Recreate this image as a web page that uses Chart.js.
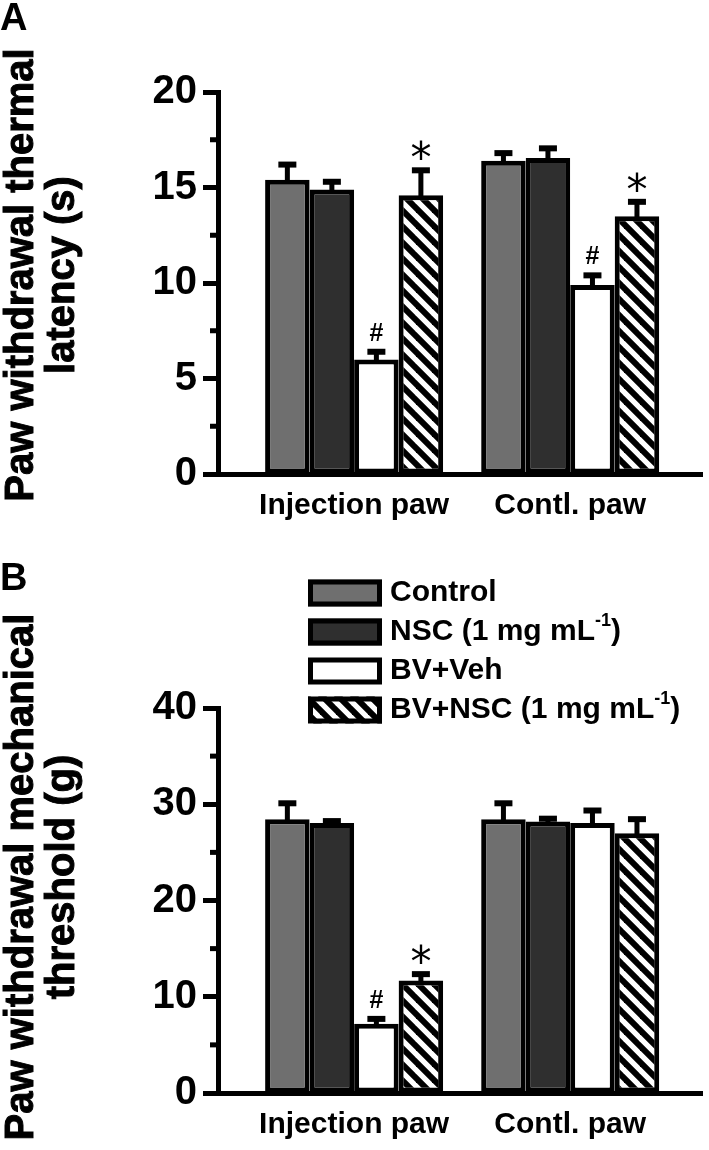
<!DOCTYPE html>
<html>
<head>
<meta charset="utf-8">
<script src="https://cdn.jsdelivr.net/npm/chart.js@4.4.1/dist/chart.umd.min.js"></script>
<style>
  html, body { margin: 0; padding: 0; background: #fff; }
  .panel { position: absolute; left: 0; width: 709px; }
  #panelA { top: 0; height: 550px; }
  #panelB { top: 550px; height: 600px; }
</style>
</head>
<body>
<div class="panel" id="panelA"><canvas id="chartA"></canvas></div>
<div class="panel" id="panelB"><canvas id="chartB"></canvas></div>
<script>
const categories = ["Injection paw", "Contl. paw"];
const seriesNames = ["Control", "NSC (1 mg mL⁻¹)", "BV+Veh", "BV+NSC (1 mg mL⁻¹)"];

// A: paw withdrawal thermal latency (s), mean and SEM
const thermalControl = [15.4, 16.4];
const thermalNSC = [14.9, 16.55];
const thermalBVVeh = [6.0, 9.9];
const thermalBVNSC = [14.6, 13.5];
const thermalControlErr = [0.8, 0.4];
const thermalNSCErr = [0.4, 0.5];
const thermalBVVehErr = [0.4, 0.5];
const thermalBVNSCErr = [1.3, 0.75];
const thermalTicks = [0, 5, 10, 15, 20];

// B: paw withdrawal mechanical threshold (g)
const mechControl = [28.45, 28.45];
const mechNSC = [28.05, 28.2];
const mechBVVeh = [7.2, 28.05];
const mechBVNSC = [11.7, 27.0];
const mechControlErr = [1.65, 1.65];
const mechNSCErr = [0.2, 0.3];
const mechBVVehErr = [0.5, 1.3];
const mechBVNSCErr = [0.65, 1.45];
const mechTicks = [0, 10, 20, 30, 40];

// significance marks (# vs control, * vs BV+Veh)
const hashMarksA = ["#", "#"];
const starMarksA = ["*", "*"];
const hashMarksB = ["#", ""];
const starMarksB = ["*", ""];

const FAMILY = "'Liberation Sans', Arial, Helvetica, sans-serif";
Chart.defaults.font.family = FAMILY;
Chart.defaults.font.weight = "bold";
Chart.defaults.color = "#000";

function hatchPattern() {
    const c = document.createElement("canvas");
    c.width = 16;
    c.height = 16;
    const g = c.getContext("2d");
    g.fillStyle = "#fff";
    g.fillRect(0, 0, 16, 16);
    g.strokeStyle = "#000";
    g.lineWidth = 6;
    [-16, 0, 16].forEach(d => {
        g.beginPath();
        g.moveTo(d - 4, -4);
        g.lineTo(d + 20, 20);
        g.stroke();
    });
    return g.createPattern(c, "repeat");
}

const fills = ["#6f6f6f", "#2f2f2f", "#ffffff", hatchPattern()];

function points(values) {
    return values.map((v, i) => ({ x: i + 1, y: v }));
}

// error bars + significance marks, drawn above the bars
const errorBars = {
    id: "errorBars",
    afterDatasetsDraw(chart) {
        const ctx = chart.ctx;
        const yScale = chart.scales.y;
        ctx.save();
        chart.data.datasets.forEach((ds, i) => {
            const meta = chart.getDatasetMeta(i);
            meta.data.forEach((bar, j) => {
                const top = yScale.getPixelForValue(ds.data[j].y + ds.errors[j]);
                ctx.fillStyle = "#000";
                ctx.fillRect(bar.x - 2.5, top, 5, bar.y - top + 2);
                ctx.fillRect(bar.x - 9, top - 3, 18, 6);
                const mark = ds.marks && ds.marks[j];
                if (mark) {
                    ctx.font = mark === "*" ? "42px 'DejaVu Sans', sans-serif" : "bold 25px " + FAMILY;
                    ctx.textAlign = "center";
                    ctx.textBaseline = "alphabetic";
                    const m = ctx.measureText(mark);
                    const cy = top - 20;
                    ctx.fillText(mark, bar.x, cy + (m.actualBoundingBoxAscent - m.actualBoundingBoxDescent) / 2);
                }
            });
        });
        ctx.restore();
    }
};

// short minor ticks half way between the labelled ones
const minorTicks = {
    id: "minorTicks",
    afterDraw(chart) {
        const ctx = chart.ctx;
        const yScale = chart.scales.y;
        const left = chart.chartArea.left;
        ctx.save();
        ctx.fillStyle = "#000";
        yScale.ticks.forEach((t, k) => {
            if (k === yScale.ticks.length - 1) return;
            const py = yScale.getPixelForValue((t.value + yScale.ticks[k + 1].value) / 2);
            ctx.fillRect(left - 8, py - 2.5, 8, 5);
        });
        ctx.restore();
    }
};

// rotated two-line y title
const yTitle = {
    id: "yTitle",
    afterDraw(chart, args, opts) {
        const ctx = chart.ctx;
        ctx.save();
        ctx.fillStyle = "#000";
        ctx.strokeStyle = "#000";
        ctx.lineWidth = 1;
        ctx.font = "bold " + opts.size + "px " + FAMILY;
        ctx.textAlign = "center";
        ctx.textBaseline = "middle";
        opts.lines.forEach((line, i) => {
            ctx.save();
            ctx.translate(opts.x[i], opts.centerY);
            ctx.rotate(-Math.PI / 2);
            ctx.fillText(line, 0, 0);
            ctx.strokeText(line, 0, 0);
            ctx.restore();
        });
        ctx.restore();
    }
};

function drawLabel(ctx, text, x, y, size) {
    const parts = text.split("⁻¹");
    ctx.textAlign = "left";
    ctx.textBaseline = "middle";
    ctx.font = "bold " + size + "px " + FAMILY;
    ctx.fillText(parts[0], x, y);
    if (parts.length > 1) {
        x += ctx.measureText(parts[0]).width;
        ctx.font = "bold " + Math.round(size * 0.6) + "px " + FAMILY;
        ctx.fillText("-1", x, y - size * 0.38);
        x += ctx.measureText("-1").width;
        ctx.font = "bold " + size + "px " + FAMILY;
        ctx.fillText(parts[1], x, y);
    }
}

const boxLegend = {
    id: "boxLegend",
    afterDraw(chart, args, opts) {
        if (!opts.display) return;
        const ctx = chart.ctx;
        ctx.save();
        chart.data.datasets.forEach((ds, i) => {
            const cy = opts.top + i * opts.gap;
            const y0 = cy - opts.boxHeight / 2;
            ctx.fillStyle = ds.backgroundColor;
            ctx.fillRect(opts.left, y0, opts.boxWidth, opts.boxHeight);
            ctx.lineWidth = 5;
            ctx.strokeStyle = "#000";
            ctx.strokeRect(opts.left + 2.5, y0 + 2.5, opts.boxWidth - 5, opts.boxHeight - 5);
            ctx.fillStyle = "#000";
            drawLabel(ctx, ds.label, opts.left + opts.boxWidth + 8, cy, opts.fontSize);
        });
        ctx.restore();
    }
};

function makePanel(canvasId, cfg) {
    const datasets = cfg.series.map((vals, i) => ({
        label: seriesNames[i],
        data: points(vals),
        errors: cfg.errors[i],
        marks: cfg.marks[i],
        backgroundColor: fills[i],
        borderColor: "#000",
        borderWidth: 5,
        borderSkipped: false,
        barPercentage: 1,
        categoryPercentage: 0.824
    }));

    return new Chart(document.getElementById(canvasId), {
        type: "bar",
        data: { datasets },
        plugins: [errorBars, minorTicks, yTitle, boxLegend],
        options: {
            responsive: true,
            maintainAspectRatio: false,
            animation: false,
            layout: { padding: { left: 0, right: 7, top: 0, bottom: 0 } },
            scales: {
                x: {
                    type: "linear",
                    offset: false,
                    bounds: "data",
                    min: 0.37,
                    max: 2.61,
                    afterBuildTicks: scale => {
                        scale.ticks = categories.map((c, i) => ({ value: i + 1 }));
                    },
                    afterFit: scale => { scale.height = cfg.xHeight; },
                    grid: { display: false, drawTicks: false, offset: false },
                    border: { display: true, color: "#000", width: 5 },
                    ticks: {
                        autoSkip: false,
                        maxRotation: 0,
                        padding: 14,
                        font: { size: 30, weight: "bold" },
                        callback: v => categories[v - 1]
                    }
                },
                y: {
                    min: cfg.ticks[0],
                    max: cfg.ticks[cfg.ticks.length - 1],
                    afterBuildTicks: scale => {
                        scale.ticks = cfg.ticks.map(v => ({ value: v }));
                    },
                    afterFit: scale => { scale.width = 218; },
                    grid: {
                        drawOnChartArea: false,
                        drawTicks: true,
                        tickLength: 15,
                        tickWidth: 5,
                        tickColor: "#000"
                    },
                    border: { display: true, color: "#000", width: 5 },
                    ticks: {
                        padding: 6,
                        font: { size: 40, weight: "bold" }
                    }
                }
            },
            plugins: {
                legend: { display: false },
                tooltip: { enabled: false },
                title: {
                    display: true,
                    text: cfg.letter,
                    align: "start",
                    padding: cfg.letterPadding,
                    font: { size: 38, weight: "bold", lineHeight: 1 }
                },
                yTitle: cfg.yTitle,
                boxLegend: cfg.legend
            }
        }
    });
}

makePanel("chartA", {
    letter: "A",
    letterPadding: { top: 1, bottom: 53 },
    yTitle: { lines: ["Paw withdrawal thermal", "latency (s)"], x: [22, 63], centerY: 275, size: 40 },
    series: [thermalControl, thermalNSC, thermalBVVeh, thermalBVNSC],
    errors: [thermalControlErr, thermalNSCErr, thermalBVVehErr, thermalBVNSCErr],
    marks: [null, null, hashMarksA, starMarksA],
    ticks: thermalTicks,
    xHeight: 76,
    legend: { display: false }
});

makePanel("chartB", {
    letter: "B",
    letterPadding: { top: 11, bottom: 109 },
    yTitle: { lines: ["Paw withdrawal mechanical", "threshold (g)"], x: [22, 63], centerY: 327, size: 40 },
    series: [mechControl, mechNSC, mechBVVeh, mechBVNSC],
    errors: [mechControlErr, mechNSCErr, mechBVVehErr, mechBVNSCErr],
    marks: [null, null, hashMarksB, starMarksB],
    ticks: mechTicks,
    xHeight: 57,
    legend: { display: true, left: 308, top: 43, gap: 39, boxWidth: 74, boxHeight: 27, fontSize: 30 }
});
</script>
</body>
</html>
